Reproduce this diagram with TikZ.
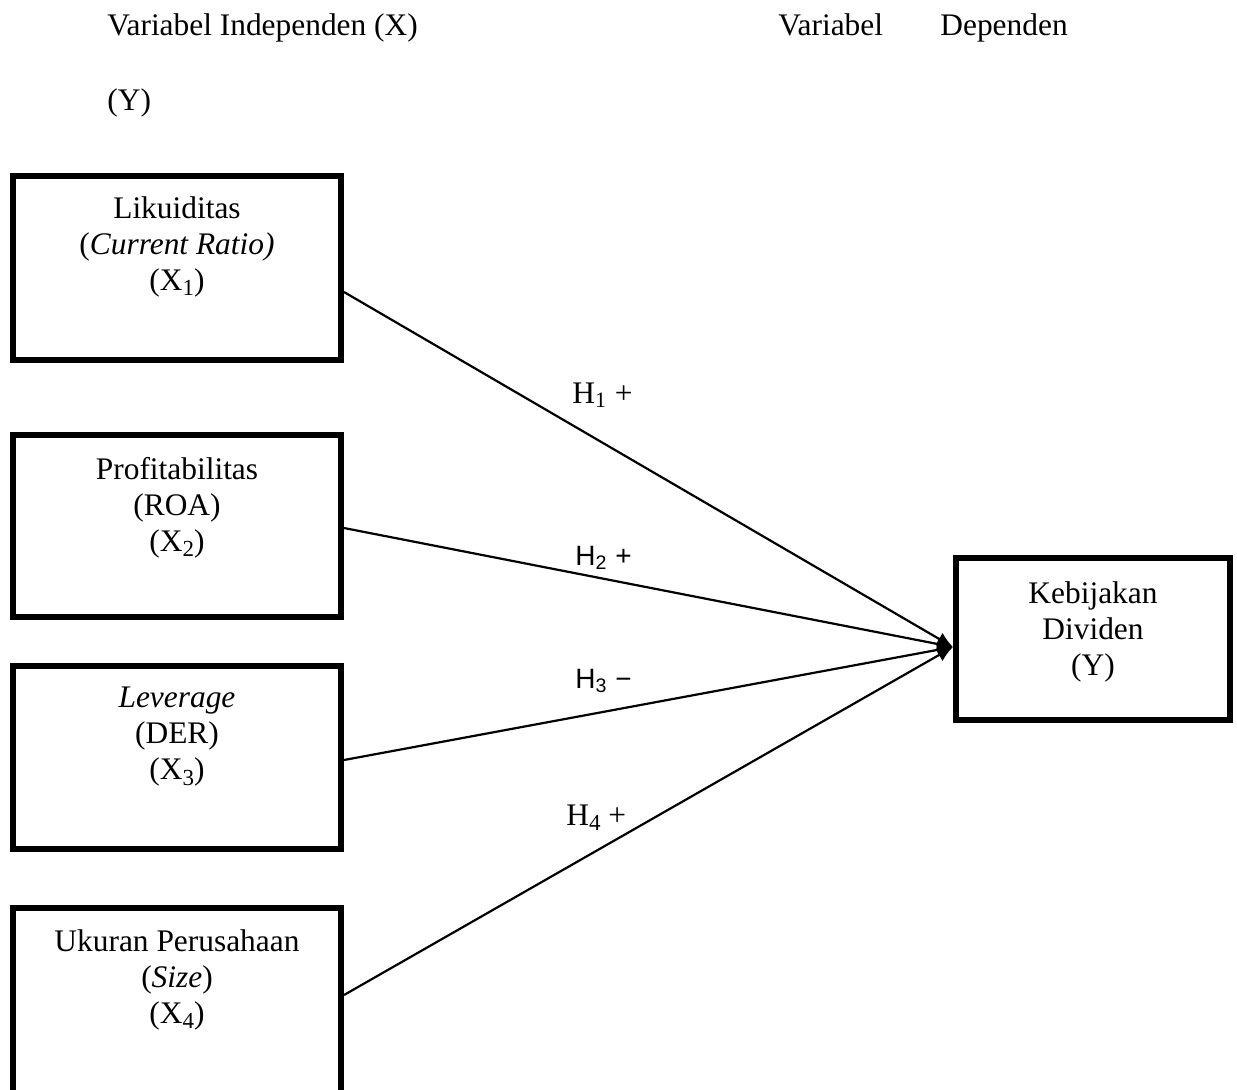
\documentclass[tikz,border=0pt]{standalone}
\usepackage{fontspec}
\setmainfont{Liberation Serif}
\newfontfamily\arialf{Liberation Sans}
\usetikzlibrary{arrows.meta}
\newcommand{\mysub}[1]{\raisebox{-0.35ex}{\fontsize{11.5}{12}\selectfont #1}}
\begin{document}
\begin{tikzpicture}[x=0.5pt,y=-0.5pt,
  vbox/.style={draw, line width=3pt, inner sep=0pt},
  txt/.style={font=\fontsize{15.7}{18}\selectfont, align=center, inner sep=0pt, anchor=north},
  head/.style={font=\fontsize{15.7}{18}\selectfont, inner sep=0pt, anchor=base west},
  link/.style={line width=1.1pt, -{Latex[length=8pt,width=7pt]}},
  hlab/.style={font=\fontsize{15.7}{18}\selectfont, inner sep=0pt, anchor=base west},
  hlabs/.style={font=\arialf\fontsize{14}{16}\selectfont, inner sep=0pt, anchor=base west}]
\clip (0,0) rectangle (1237,1089);
\useasboundingbox (0,0) rectangle (1237,1089);

% header texts
\node[head] (hx) at (107,35) {Variabel Independen (X)};
\node[head] (hy) at (107,110) {(Y)};
\node[head] (hv) at (778,35) {Variabel};
\node[head] (hd) at (940,35) {Dependen};

% boxes
\node[vbox, minimum width=164pt, minimum height=92pt] (b1) at (177,268) {};
\node[vbox, minimum width=164pt, minimum height=91pt] (b2) at (177,526) {};
\node[vbox, minimum width=164pt, minimum height=91.5pt] (b3) at (177,757.5) {};
\node[vbox, minimum width=164pt, minimum height=146pt] (b4) at (177,1054) {};
\node[vbox, minimum width=137pt, minimum height=81pt] (by) at (1093,639) {};

% box texts
\node[txt] (t1) at (177,196) {Likuiditas\\(\textit{Current Ratio)}\\(X\mysub{1})};
\node[txt] (t2) at (177,457) {Profitabilitas\\(ROA)\\(X\mysub{2})};
\node[txt] (t3) at (177,687) {\textit{Leverage}\\(DER)\\(X\mysub{3})};
\node[txt] (t4) at (177,929) {Ukuran Perusahaan\\(\textit{Size})\\(X\mysub{4})};
\node[txt] (ty) at (1093,581) {Kebijakan\\Dividen\\(Y)};

% connectors
\coordinate (tip) at (by.west |- 0,647);
\draw[link] (b1.east |- 0,292) -- (tip);
\draw[link] (b2.east |- 0,528) -- (tip);
\draw[link] (b3.east |- 0,760) -- (tip);
\draw[link] (b4.east |- 0,995) -- (tip);

% hypothesis labels
\node[hlab] (h1) at (572,403) {H\textsubscript{1} +};
\node[hlabs] (h2) at (575,565) {H\textsubscript{2} +};
\node[hlabs] (h3) at (575,688) {H\textsubscript{3} −};
\node[hlab] (h4) at (566,825) {H\mysub{4} +};
\end{tikzpicture}
\end{document}
